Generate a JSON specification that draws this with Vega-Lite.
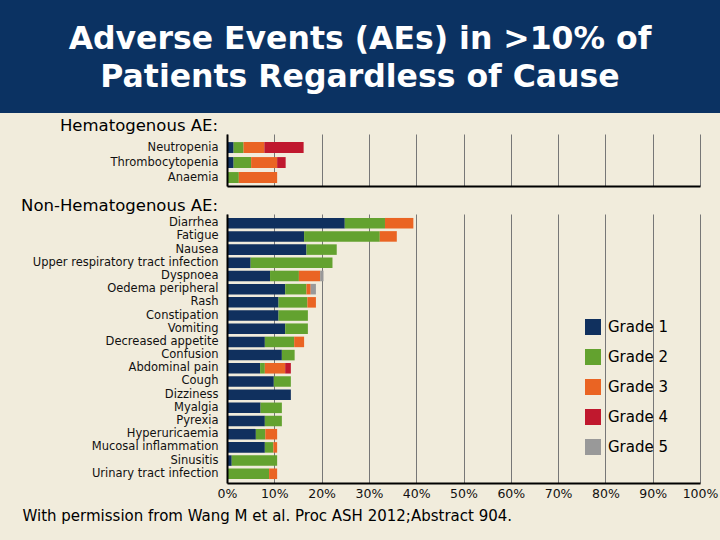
{
  "$schema": "https://vega.github.io/schema/vega-lite/v6.json",
  "background": "#f1ecdc",
  "padding": {"left": 0, "top": 0, "right": 0, "bottom": 17},
  "spacing": 4,
  "config": {"view": {"stroke": null}, "font": "DejaVu Sans"},
  "datasets": {
    "banner": [
      {"row": 1, "line": "Adverse Events (AEs) in >10% of"},
      {"row": 2, "line": "Patients Regardless of Cause"}
    ],
    "bars": [
      {"panel": "H", "ae": "Neutropenia", "grade": "Grade 1", "g": 1, "pct": 1.4},
      {"panel": "H", "ae": "Neutropenia", "grade": "Grade 2", "g": 2, "pct": 2.1},
      {"panel": "H", "ae": "Neutropenia", "grade": "Grade 3", "g": 3, "pct": 4.4},
      {"panel": "H", "ae": "Neutropenia", "grade": "Grade 4", "g": 4, "pct": 8.3},
      {"panel": "H", "ae": "Thrombocytopenia", "grade": "Grade 1", "g": 1, "pct": 1.4},
      {"panel": "H", "ae": "Thrombocytopenia", "grade": "Grade 2", "g": 2, "pct": 3.7},
      {"panel": "H", "ae": "Thrombocytopenia", "grade": "Grade 3", "g": 3, "pct": 5.5},
      {"panel": "H", "ae": "Thrombocytopenia", "grade": "Grade 4", "g": 4, "pct": 1.8},
      {"panel": "H", "ae": "Anaemia", "grade": "Grade 2", "g": 2, "pct": 2.5},
      {"panel": "H", "ae": "Anaemia", "grade": "Grade 3", "g": 3, "pct": 8.1},
      {"panel": "N", "ae": "Diarrhea", "grade": "Grade 1", "g": 1, "pct": 24.9},
      {"panel": "N", "ae": "Diarrhea", "grade": "Grade 2", "g": 2, "pct": 8.5},
      {"panel": "N", "ae": "Diarrhea", "grade": "Grade 3", "g": 3, "pct": 6.0},
      {"panel": "N", "ae": "Fatigue", "grade": "Grade 1", "g": 1, "pct": 16.3},
      {"panel": "N", "ae": "Fatigue", "grade": "Grade 2", "g": 2, "pct": 16.0},
      {"panel": "N", "ae": "Fatigue", "grade": "Grade 3", "g": 3, "pct": 3.6},
      {"panel": "N", "ae": "Nausea", "grade": "Grade 1", "g": 1, "pct": 16.8},
      {"panel": "N", "ae": "Nausea", "grade": "Grade 2", "g": 2, "pct": 6.4},
      {"panel": "N", "ae": "Upper respiratory tract infection", "grade": "Grade 1", "g": 1, "pct": 5.0},
      {"panel": "N", "ae": "Upper respiratory tract infection", "grade": "Grade 2", "g": 2, "pct": 17.3},
      {"panel": "N", "ae": "Dyspnoea", "grade": "Grade 1", "g": 1, "pct": 9.1},
      {"panel": "N", "ae": "Dyspnoea", "grade": "Grade 2", "g": 2, "pct": 6.1},
      {"panel": "N", "ae": "Dyspnoea", "grade": "Grade 3", "g": 3, "pct": 4.5},
      {"panel": "N", "ae": "Dyspnoea", "grade": "Grade 5", "g": 5, "pct": 0.7},
      {"panel": "N", "ae": "Oedema peripheral", "grade": "Grade 1", "g": 1, "pct": 12.3},
      {"panel": "N", "ae": "Oedema peripheral", "grade": "Grade 2", "g": 2, "pct": 4.5},
      {"panel": "N", "ae": "Oedema peripheral", "grade": "Grade 3", "g": 3, "pct": 0.9},
      {"panel": "N", "ae": "Oedema peripheral", "grade": "Grade 5", "g": 5, "pct": 1.1},
      {"panel": "N", "ae": "Rash", "grade": "Grade 1", "g": 1, "pct": 10.9},
      {"panel": "N", "ae": "Rash", "grade": "Grade 2", "g": 2, "pct": 6.1},
      {"panel": "N", "ae": "Rash", "grade": "Grade 3", "g": 3, "pct": 1.8},
      {"panel": "N", "ae": "Constipation", "grade": "Grade 1", "g": 1, "pct": 10.9},
      {"panel": "N", "ae": "Constipation", "grade": "Grade 2", "g": 2, "pct": 6.2},
      {"panel": "N", "ae": "Vomiting", "grade": "Grade 1", "g": 1, "pct": 12.3},
      {"panel": "N", "ae": "Vomiting", "grade": "Grade 2", "g": 2, "pct": 4.8},
      {"panel": "N", "ae": "Decreased appetite", "grade": "Grade 1", "g": 1, "pct": 8.0},
      {"panel": "N", "ae": "Decreased appetite", "grade": "Grade 2", "g": 2, "pct": 6.2},
      {"panel": "N", "ae": "Decreased appetite", "grade": "Grade 3", "g": 3, "pct": 2.1},
      {"panel": "N", "ae": "Confusion", "grade": "Grade 1", "g": 1, "pct": 11.6},
      {"panel": "N", "ae": "Confusion", "grade": "Grade 2", "g": 2, "pct": 2.7},
      {"panel": "N", "ae": "Abdominal pain", "grade": "Grade 1", "g": 1, "pct": 7.0},
      {"panel": "N", "ae": "Abdominal pain", "grade": "Grade 2", "g": 2, "pct": 1.0},
      {"panel": "N", "ae": "Abdominal pain", "grade": "Grade 3", "g": 3, "pct": 4.3},
      {"panel": "N", "ae": "Abdominal pain", "grade": "Grade 4", "g": 4, "pct": 1.2},
      {"panel": "N", "ae": "Cough", "grade": "Grade 1", "g": 1, "pct": 9.9},
      {"panel": "N", "ae": "Cough", "grade": "Grade 2", "g": 2, "pct": 3.6},
      {"panel": "N", "ae": "Dizziness", "grade": "Grade 1", "g": 1, "pct": 13.5},
      {"panel": "N", "ae": "Myalgia", "grade": "Grade 1", "g": 1, "pct": 7.1},
      {"panel": "N", "ae": "Myalgia", "grade": "Grade 2", "g": 2, "pct": 4.5},
      {"panel": "N", "ae": "Pyrexia", "grade": "Grade 1", "g": 1, "pct": 8.0},
      {"panel": "N", "ae": "Pyrexia", "grade": "Grade 2", "g": 2, "pct": 3.6},
      {"panel": "N", "ae": "Hyperuricaemia", "grade": "Grade 1", "g": 1, "pct": 6.1},
      {"panel": "N", "ae": "Hyperuricaemia", "grade": "Grade 2", "g": 2, "pct": 2.0},
      {"panel": "N", "ae": "Hyperuricaemia", "grade": "Grade 3", "g": 3, "pct": 2.5},
      {"panel": "N", "ae": "Mucosal inflammation", "grade": "Grade 1", "g": 1, "pct": 8.0},
      {"panel": "N", "ae": "Mucosal inflammation", "grade": "Grade 2", "g": 2, "pct": 1.8},
      {"panel": "N", "ae": "Mucosal inflammation", "grade": "Grade 3", "g": 3, "pct": 0.8},
      {"panel": "N", "ae": "Sinusitis", "grade": "Grade 1", "g": 1, "pct": 1.0},
      {"panel": "N", "ae": "Sinusitis", "grade": "Grade 2", "g": 2, "pct": 9.6},
      {"panel": "N", "ae": "Urinary tract infection", "grade": "Grade 2", "g": 2, "pct": 8.9},
      {"panel": "N", "ae": "Urinary tract infection", "grade": "Grade 3", "g": 3, "pct": 1.7}
    ]
  },
  "vconcat": [
    {
      "width": 720,
      "height": 113,
      "view": {"fill": "#0b3262", "stroke": null},
      "data": {"name": "banner"},
      "mark": {"type": "text", "font": "DejaVu Sans", "fontWeight": "bold", "fontSize": 31.5, "color": "white", "baseline": "middle", "align": "center"},
      "encoding": {
        "y": {"field": "row", "type": "ordinal", "axis": null, "scale": {"type": "point", "padding": 1.03, "align": 0.53}},
        "text": {"field": "line"}
      }
    },
    {
      "width": 720,
      "height": 52,
      "title": {"text": "Hematogenous AE:", "anchor": "start", "align": "right", "dx": 218, "fontSize": 16.5, "fontWeight": "normal", "font": "DejaVu Sans", "offset": 0, "color": "black"},
      "data": {"name": "bars"},
      "transform": [{"filter": "datum.panel == 'H'"}],
      "mark": {"type": "bar"},
      "encoding": {
        "y": {
          "field": "ae", "type": "nominal",
          "sort": ["Neutropenia", "Thrombocytopenia", "Anaemia"],
          "scale": {"paddingInner": 0.27, "paddingOuter": 0.37, "align": 0.73},
          "axis": {"title": null, "offset": -227, "zindex": 1, "domainColor": "black", "domainWidth": 2, "ticks": false, "labelPadding": 9, "labelFontSize": 11.5, "labelLimit": 0, "labelColor": "#111", "labelFont": "DejaVu Sans"}
        },
        "x": {
          "field": "pct", "type": "quantitative", "stack": "zero",
          "scale": {"domain": [0, 100], "range": [227, 700], "nice": false},
          "axis": {"title": null, "labels": false, "ticks": false, "grid": true, "gridColor": "#777", "gridWidth": 1, "values": [0, 10, 20, 30, 40, 50, 60, 70, 80, 90, 100], "domainColor": "black", "domainWidth": 2, "minExtent": 6.5}
        },
        "color": {
          "field": "grade", "type": "nominal",
          "scale": {"domain": ["Grade 1", "Grade 2", "Grade 3", "Grade 4", "Grade 5"], "range": ["#10305e", "#63a22f", "#ea6423", "#c0182e", "#999999"]},
          "legend": {"orient": "none", "legendX": 585, "legendY": 319, "title": null, "symbolType": "square", "symbolSize": 256, "symbolStrokeWidth": 0, "symbolOpacity": 1, "labelFontSize": 15, "labelFont": "DejaVu Sans", "labelColor": "black", "rowPadding": 14, "labelOffset": 7}
        },
        "order": {"field": "g", "sort": "ascending"}
      }
    },
    {
      "width": 720,
      "height": 269,
      "title": {"text": "Non-Hematogenous AE:", "anchor": "start", "align": "right", "dx": 218, "fontSize": 16.5, "fontWeight": "normal", "font": "DejaVu Sans", "offset": 0, "color": "black"},
      "data": {"name": "bars"},
      "transform": [{"filter": "datum.panel == 'N'"}],
      "mark": {"type": "bar"},
      "encoding": {
        "y": {
          "field": "ae", "type": "nominal",
          "sort": ["Diarrhea", "Fatigue", "Nausea", "Upper respiratory tract infection", "Dyspnoea", "Oedema peripheral", "Rash", "Constipation", "Vomiting", "Decreased appetite", "Confusion", "Abdominal pain", "Cough", "Dizziness", "Myalgia", "Pyrexia", "Hyperuricaemia", "Mucosal inflammation", "Sinusitis", "Urinary tract infection"],
          "scale": {"paddingInner": 0.2, "paddingOuter": 0.3},
          "axis": {"title": null, "offset": -227, "zindex": 1, "domainColor": "black", "domainWidth": 2, "ticks": false, "labelPadding": 9, "labelFontSize": 11.5, "labelLimit": 0, "labelColor": "#111", "labelFont": "DejaVu Sans"}
        },
        "x": {
          "field": "pct", "type": "quantitative", "stack": "zero",
          "scale": {"domain": [0, 100], "range": [227, 700], "nice": false},
          "axis": {
            "title": "With permission from Wang M et al. Proc ASH 2012;Abstract 904.",
            "titleX": 22, "titleY": 32, "titleAlign": "left", "titleBaseline": "middle", "titleFontSize": 15, "titleFontWeight": "normal", "titleFont": "DejaVu Sans", "titleColor": "black",
            "labelExpr": "datum.value + '%'", "labelFontSize": 12.5, "labelFont": "DejaVu Sans", "labelColor": "#111", "labelPadding": 4, "labelOverlap": false, "labelFlush": false,
            "ticks": false, "grid": true, "gridColor": "#777", "gridWidth": 1, "values": [0, 10, 20, 30, 40, 50, 60, 70, 80, 90, 100], "domainColor": "black", "domainWidth": 2
          }
        },
        "color": {"field": "grade", "type": "nominal"},
        "order": {"field": "g", "sort": "ascending"}
      }
    }
  ]
}
